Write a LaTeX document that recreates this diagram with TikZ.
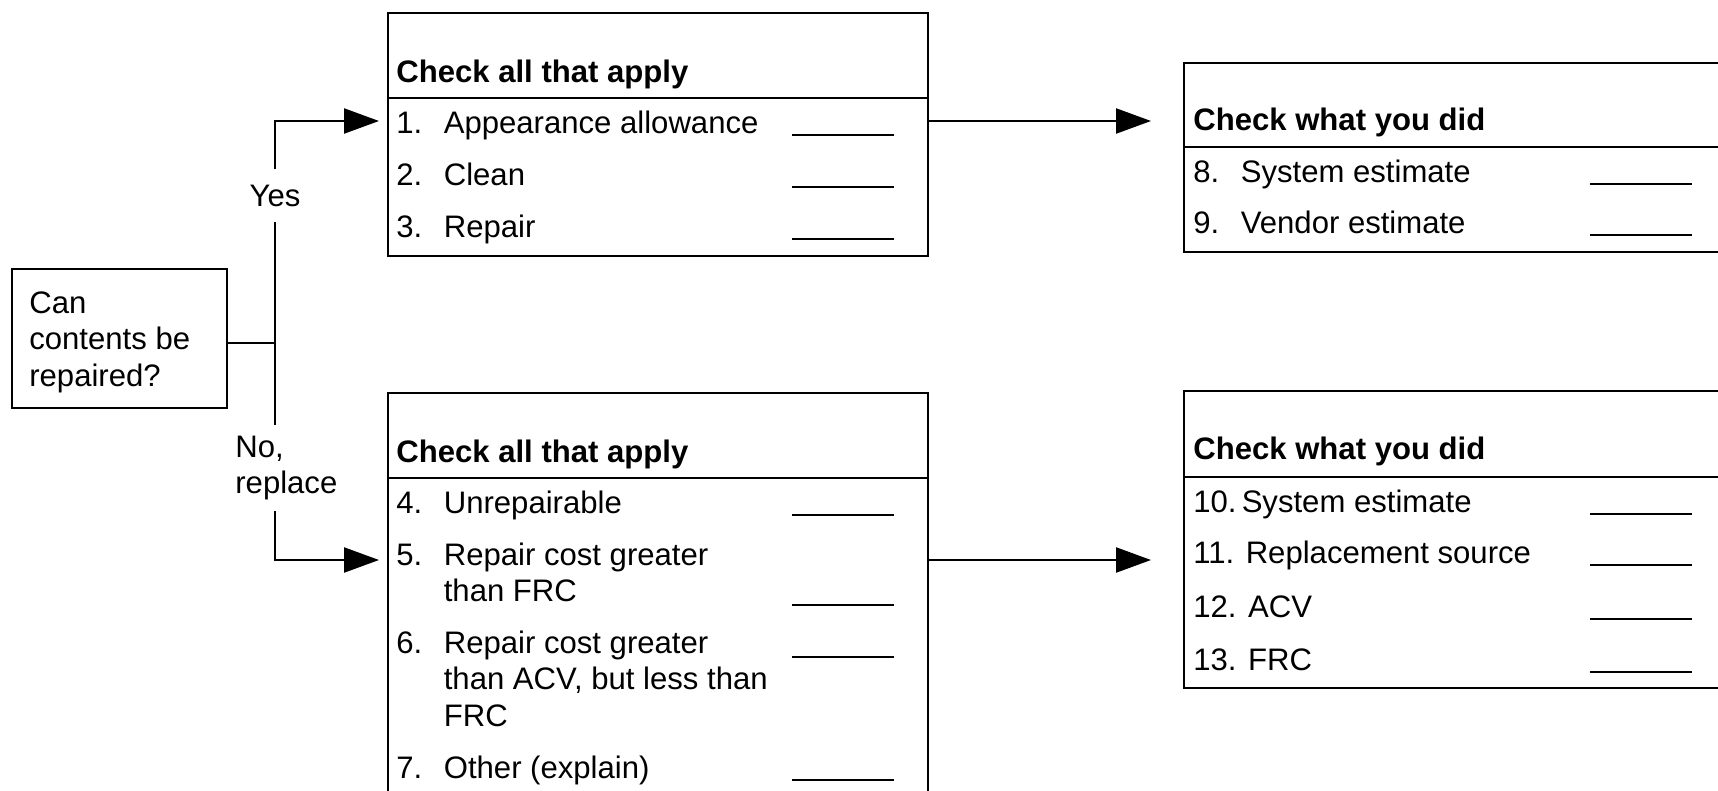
\documentclass[tikz,border=0pt]{standalone}
\usepackage{fontspec}
\setmainfont{Liberation Sans}
\usetikzlibrary{arrows.meta}

% number in a fixed column, text (possibly several lines) after it
\newcommand{\entry}[2]{\makebox[0.95cm][l]{#1}\begin{tabular}[t]{@{}l@{}}#2\end{tabular}}
\newcommand{\itemlines}[1]{\begin{tabular}[t]{@{}l@{}}#1\end{tabular}}

\begin{document}
\begin{tikzpicture}[x=0.02cm,y=-0.02cm,
    every node/.style={inner sep=0pt,font=\fontsize{17.7}{21}\selectfont},
    frame/.style={draw,line width=1.3pt,anchor=north west},
    head/.style={anchor=base west,font=\fontsize{17.7}{21}\selectfont\bfseries},
    item/.style={anchor=base west},
    wire/.style={line width=1.3pt},
    link/.style={wire,-{Triangle[length=0.7cm,width=0.5cm]}},
    blank/.style={line width=0.9pt}]

\useasboundingbox (0,0) rectangle (1718,791);
\clip (0,0) rectangle (1718,791);

% question
\node[frame,minimum width=4.3cm,minimum height=2.78cm] (Q) at (11,268) {};
\node[item] (Qtext) at (29,313) {\itemlines{Can\\contents be\\repaired?}};

% check boxes (lower one and right ones run off the page)
\node[frame,minimum width=10.8cm,minimum height=4.86cm] (T) at (387,12) {};
\node[frame,minimum width=10.8cm,minimum height=8.4cm] (B) at (387,392) {};
\node[frame,minimum width=12cm,minimum height=3.78cm] (R1) at (1183,62) {};
\node[frame,minimum width=12cm,minimum height=5.94cm] (R2) at (1183,390) {};

\draw[wire] (T.north west) ++(0,86) -- +(540,0);
\draw[wire] (B.north west) ++(0,86) -- +(540,0);
\draw[wire] (R1.north west) ++(0,85) -- +(600,0);
\draw[wire] (R2.north west) ++(0,87) -- +(600,0);

\node[head] (Th) at (396,82) {Check all that apply};
\node[head] (Bh) at (396,462) {Check all that apply};
\node[head] (R1h) at (1193,130) {Check what you did};
\node[head] (R2h) at (1193,459) {Check what you did};

% repair
\foreach \t/\y [count=\n] in {Appearance allowance/133, Clean/185, Repair/237}{
  \node[item] (A\n) at (396,\y) {\entry{\n.}{\t}};
  \draw[blank] (792,\y+2) -- +(102,0);
}

% replace
\foreach \t/\y/\b [count=\n from 4] in {Unrepairable/513/515,
    Repair cost greater\\than FRC/565/605,
    {Repair cost greater\\than ACV, but less than\\FRC}/653/657,
    Other (explain)/778/780}{
  \node[item] (A\n) at (396,\y) {\entry{\n.}{\t}};
  \draw[blank] (792,\b) -- +(102,0);
}

% what was done
\foreach \t/\y [count=\n from 8] in {System estimate/182, Vendor estimate/233}{
  \node[item] (A\n) at (1193,\y) {\entry{\n.}{\t}};
  \draw[blank] (1590,\y+2) -- +(102,0);
}
\foreach \t/\y [count=\n from 10] in {{10.\,System estimate}/512,
    11. Replacement source/563, 12. ACV/617, 13. FRC/670}{
  \node[item] (A\n) at (1193,\y) {\t};
  \draw[blank] (1590,\y+2) -- +(102,0);
}

% branches
\coordinate (fork) at (275,343);
\coordinate (yesin) at (0,121);
\coordinate (noin) at (0,560);
\node[anchor=base,inner ysep=0.3cm] (Yes) at (275,206) {Yes};
\node[item,inner ysep=0.12cm] (No) at (235,457) {\itemlines{No,\\replace}};

\draw[wire] (Q.east |- fork) -- (fork) -- (Yes.south);
\draw[link,shorten >=0.16cm] (Yes.north) |- (T.west |- yesin);
\draw[wire] (fork) -- (fork |- No.north);
\draw[link,shorten >=0.16cm] (fork |- No.south) |- (B.west |- noin);

\draw[link,shorten >=0.64cm] (T.east |- yesin) -- (R1.west |- yesin);
\draw[link,shorten >=0.64cm] (B.east |- noin) -- (R2.west |- noin);
\end{tikzpicture}
\end{document}
